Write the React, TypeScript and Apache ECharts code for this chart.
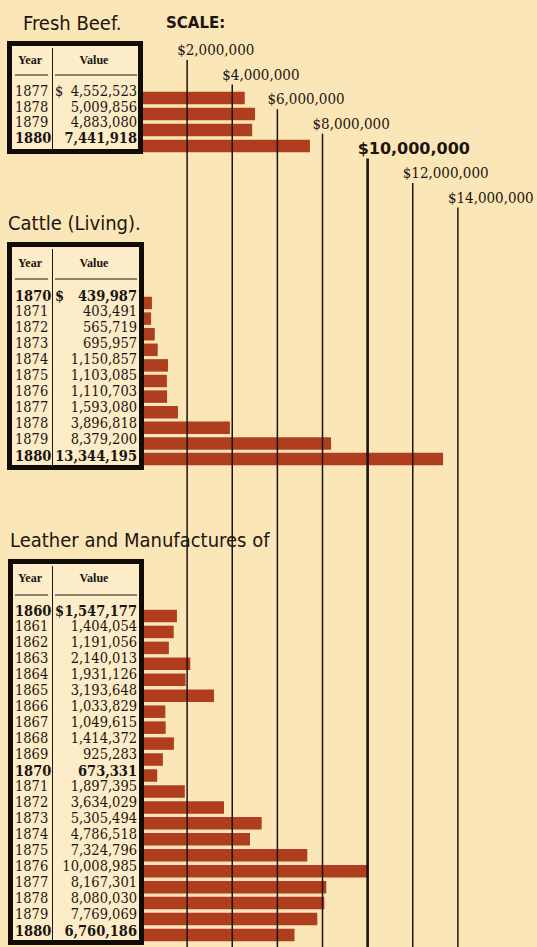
import React, { useEffect, useRef } from "react";
import * as echarts from "echarts";

// ---------- data ----------
const beefYears = ["1877", "1878", "1879", "1880"];
const beefValues = [4552523, 5009856, 4883080, 7441918];

const cattleYears = ["1870", "1871", "1872", "1873", "1874", "1875", "1876", "1877", "1878", "1879", "1880"];
const cattleValues = [439987, 403491, 565719, 695957, 1150857, 1103085, 1110703, 1593080, 3896818, 8379200, 13344195];

const leatherYears = [
  "1860", "1861", "1862", "1863", "1864", "1865", "1866", "1867", "1868", "1869", "1870",
  "1871", "1872", "1873", "1874", "1875", "1876", "1877", "1878", "1879", "1880",
];
const leatherValues = [
  1547177, 1404054, 1191056, 2140013, 1931126, 3193648, 1033829, 1049615, 1414372, 925283, 673331,
  1897395, 3634029, 5305494, 4786518, 7324796, 10008985, 8167301, 8080030, 7769069, 6760186,
];

const scaleTicks = [2000000, 4000000, 6000000, 8000000, 10000000, 12000000, 14000000];

const titles = ["Fresh Beef.", "Cattle (Living).", "Leather and Manufactures of"];
const scaleTitle = "SCALE:";
const headerYear = "Year";
const headerValue = "Value";

// ---------- styles / layout ----------
const W = 537;
const H = 947;
const BG = "#FBE6B7";
const TABLE_BG = "#FCECC8";
const INK = "#1b1410";
const BAR = "#AE3E1E";
const SERIF = '"DejaVu Serif Condensed", "Liberation Serif", serif';
const HEAD_SERIF = '"Liberation Serif", serif';
const SANS = '"DejaVu Sans Condensed", "Liberation Sans", sans-serif';
const GRID_LEFT = 142;
const GRID_WIDTH = 361;
const X_MAX = 16000000;

const emphasized: Record<number, string[]> = {
  0: ["1880"],
  1: ["1870", "1880"],
  2: ["1860", "1870", "1880"],
};

const sections = [
  {
    years: beefYears, values: beefValues,
    titleX: 23, titleY: 23,
    box: { x: 7, y: 41, w: 136, h: 113 },
    headerY: 60, ruleY: 75, rowY0: 91, rowStep: 15.5,
    gridTop: 90, gridHeight: 64,
  },
  {
    years: cattleYears, values: cattleValues,
    titleX: 8, titleY: 223,
    box: { x: 7, y: 242, w: 137, h: 228 },
    headerY: 263, ruleY: 279, rowY0: 295, rowStep: 16,
    gridTop: 295.2, gridHeight: 171.6,
  },
  {
    years: leatherYears, values: leatherValues,
    titleX: 10, titleY: 540,
    box: { x: 8, y: 559, w: 136, h: 386 },
    headerY: 578, ruleY: 595, rowY0: 610, rowStep: 16,
    gridTop: 608, gridHeight: 335,
  },
];

const fmt = (v: number) => v.toLocaleString("en-US");

function txt(text: string, x: number, y: number, font: string, align = "left", z = 110) {
  return {
    type: "text",
    x,
    y,
    z,
    silent: true,
    style: {
      text,
      font,
      fill: INK,
      align,
      verticalAlign: "middle",
      textAlign: align,
      textVerticalAlign: "middle",
    },
  };
}

function ln(x1: number, y1: number, x2: number, y2: number, w: number, z = 110) {
  return {
    type: "line",
    z,
    silent: true,
    shape: { x1, y1, x2, y2 },
    style: { stroke: INK, lineWidth: w },
  };
}

function buildGraphics() {
  const els: any[] = [];
  els.push(txt(scaleTitle, 166, 23, `bold 15px "DejaVu Sans", sans-serif`));
  sections.forEach((s, si) => {
    els.push(txt(titles[si], s.titleX, s.titleY, `20px ${SANS}`));
    const b = s.box;
    const bw = 5;
    els.push({
      type: "rect",
      z: 100,
      silent: true,
      shape: { x: b.x + bw / 2, y: b.y + bw / 2, width: b.w - bw, height: b.h - bw },
      style: { fill: TABLE_BG, stroke: "#120c08", lineWidth: bw },
    });
    els.push(txt(headerYear, 30, s.headerY, `bold 12px ${HEAD_SERIF}`, "center"));
    els.push(txt(headerValue, 94, s.headerY, `bold 12px ${HEAD_SERIF}`, "center"));
    els.push(ln(15, s.ruleY, 48, s.ruleY, 1.2));
    els.push(ln(55, s.ruleY, 137, s.ruleY, 1.2));
    els.push(ln(52.5, b.y + 7, 52.5, b.y + b.h - 5, 1));
    s.years.forEach((yr, i) => {
      const y = s.rowY0 + i * s.rowStep;
      const bold = emphasized[si].includes(yr);
      const f = `${bold ? "bold " : ""}14.5px ${SERIF}`;
      els.push(txt(yr, 15, y, f));
      els.push(txt(fmt(s.values[i]), 137, y, f, "right"));
      if (i === 0) els.push(txt("$", 55, y, f));
    });
  });
  return els;
}

export default function App() {
  const ref = useRef<HTMLDivElement>(null);

  useEffect(() => {
    document.body.style.margin = "0";
    document.body.style.background = BG;
    if (!ref.current) return;
    const chart = echarts.init(ref.current, null, { renderer: "svg" });

    const grids: any[] = sections.map((s) => ({
      left: GRID_LEFT,
      width: GRID_WIDTH,
      top: s.gridTop,
      height: s.gridHeight,
    }));
    grids.push({ left: GRID_LEFT, width: GRID_WIDTH, top: 0, height: H });

    const xAxes = grids.map((_, i) => ({
      type: "value",
      gridIndex: i,
      min: 0,
      max: X_MAX,
      show: false,
    }));
    const yAxes: any[] = sections.map((s, i) => ({
      type: "category",
      gridIndex: i,
      data: s.years,
      inverse: true,
      show: false,
    }));
    yAxes.push({ type: "value", gridIndex: 3, min: 0, max: H, inverse: true, show: false });

    const barSeries = sections.map((s, i) => ({
      type: "bar",
      xAxisIndex: i,
      yAxisIndex: i,
      data: s.values,
      barWidth: 12.5,
      itemStyle: { color: BAR },
      z: 2,
      silent: true,
    }));

    const scaleSeries = {
      type: "custom",
      xAxisIndex: 3,
      yAxisIndex: 3,
      z: 5,
      clip: false,
      silent: true,
      data: scaleTicks.map((v) => [v, 0]),
      encode: { x: 0, y: 1 },
      renderItem: (params: any, api: any) => {
        const i = params.dataIndex;
        const v = api.value(0);
        const x = api.coord([v, 0])[0];
        const top = 60 + i * 24.6;
        const big = v === 10000000;
        return {
          type: "group",
          children: [
            {
              type: "line",
              shape: { x1: x, y1: top, x2: x, y2: H },
              style: { stroke: INK, lineWidth: big ? 2.6 : 1.5 },
            },
            {
              type: "text",
              x: x - 10,
              y: top - 10,
              style: {
                text: "$" + fmt(v),
                font: big ? 'bold 16px "DejaVu Sans", sans-serif' : `15px ${SERIF}`,
                fill: INK,
                align: "left",
                verticalAlign: "middle",
              },
            },
          ],
        };
      },
    };

    chart.setOption({
      animation: false,
      backgroundColor: BG,
      grid: grids,
      xAxis: xAxes,
      yAxis: yAxes,
      series: [...barSeries, scaleSeries],
      graphic: { elements: buildGraphics() },
    });

    return () => chart.dispose();
  }, []);

  return <div ref={ref} style={{ width: W, height: H }} />;
}
